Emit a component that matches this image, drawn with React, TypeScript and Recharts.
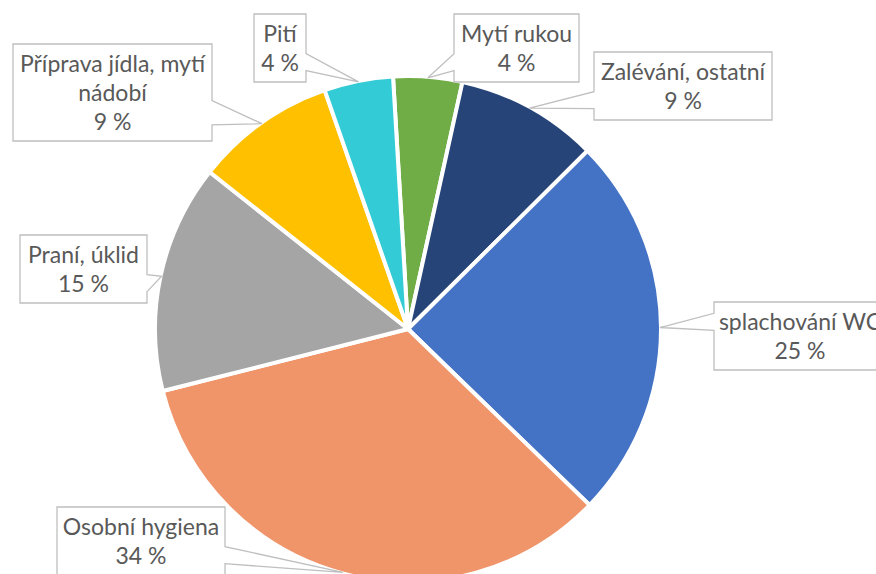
import React from "react";
import { PieChart, Pie, Cell } from "recharts";

// clockwise from the top
const categories = [
  "Mytí rukou",
  "Zalévání, ostatní",
  "splachování WC",
  "Osobní hygiena",
  "Praní, úklid",
  "Příprava jídla, mytí nádobí",
  "Pití",
];
const shares = [4.4, 9.1, 24.7, 33.8, 14.6, 9.0, 4.4];
const colors = ["#70AD47", "#264478", "#4472C4", "#F0946A", "#A5A5A5", "#FFC000", "#33CCD6"];

const data = categories.map((name, i) => ({ name, value: shares[i] }));

// callout box placement (x, y, width) per slice
const boxes = [
  { x: 454, y: 14, w: 125 },
  { x: 594, y: 52, w: 178 },
  { x: 714, y: 302, w: 172 },
  { x: 57, y: 507, w: 168 },
  { x: 20, y: 235, w: 127 },
  { x: 13, y: 44, w: 199 },
  { x: 254, y: 14, w: 52 },
];

const LINE = 29;
const RAD = Math.PI / 180;

function wrap(text: string, max = 20): string[] {
  if (text.length <= max) return [text];
  const cut = text.lastIndexOf(" ", max);
  return [text.slice(0, cut), text.slice(cut + 1)];
}

// rectangular callout with a wedge pointing at (tx, ty)
function calloutPath(x: number, y: number, w: number, h: number, tx: number, ty: number) {
  const dx = tx - (x + w / 2);
  const dy = ty - (y + h / 2);
  const vertical = Math.abs(dy) > Math.abs((dx * h) / w);
  const x1 = x + (w * (dx > 0 ? 7 : 2)) / 12;
  const x2 = x + (w * (dx > 0 ? 10 : 5)) / 12;
  const y1 = y + (h * (dy > 0 ? 7 : 2)) / 12;
  const y2 = y + (h * (dy > 0 ? 10 : 5)) / 12;
  const L = x, R = x + w, T = y, B = y + h;
  const pts: number[][] = [[L, T]];
  if (vertical && dy < 0) pts.push([x1, T], [tx, ty], [x2, T]);
  pts.push([R, T]);
  if (!vertical && dx > 0) pts.push([R, y1], [tx, ty], [R, y2]);
  pts.push([R, B]);
  if (vertical && dy > 0) pts.push([x2, B], [tx, ty], [x1, B]);
  pts.push([L, B]);
  if (!vertical && dx < 0) pts.push([L, y2], [tx, ty], [L, y1]);
  return "M" + pts.map((p) => p.join(",")).join("L") + "Z";
}

const renderLabel = (props: any) => {
  const { cx, cy, midAngle, outerRadius, index, percent, name } = props;
  const box = boxes[index];
  const lines = [...wrap(name), `${Math.round(percent * 100)} %`];
  const h = lines.length * LINE + 10;
  const tx = cx + (outerRadius - 1) * Math.cos(-midAngle * RAD);
  const ty = cy + (outerRadius - 1) * Math.sin(-midAngle * RAD);
  return (
    <g key={`lbl-${index}`}>
      <path
        d={calloutPath(box.x, box.y, box.w, h, tx, ty)}
        fill="#fff"
        stroke="#BFBFBF"
        strokeWidth={1.3}
      />
      {lines.map((t, k) => (
        <text
          key={k}
          x={box.x + box.w / 2}
          y={box.y + 28 + k * LINE}
          textAnchor="middle"
          fill="#595959"
          fontSize={23}
          fontFamily="Lato, 'Open Sans', sans-serif"
        >
          {t}
        </text>
      ))}
    </g>
  );
};

export default function App() {
  return (
    <div style={{ position: "absolute", left: 0, top: 0, width: 876, height: 574, background: "#fff" }}>
      <PieChart width={876} height={574} margin={{ top: 0, right: 0, bottom: 0, left: 0 }}>
        <Pie
          data={data}
          dataKey="value"
          nameKey="name"
          cx={408}
          cy={329}
          outerRadius={253}
          startAngle={93.4}
          endAngle={-266.6}
          stroke="#fff"
          strokeWidth={4}
          label={renderLabel}
          labelLine={false}
          isAnimationActive={false}
        >
          {data.map((d, i) => (
            <Cell key={d.name} fill={colors[i]} />
          ))}
        </Pie>
      </PieChart>
    </div>
  );
}
